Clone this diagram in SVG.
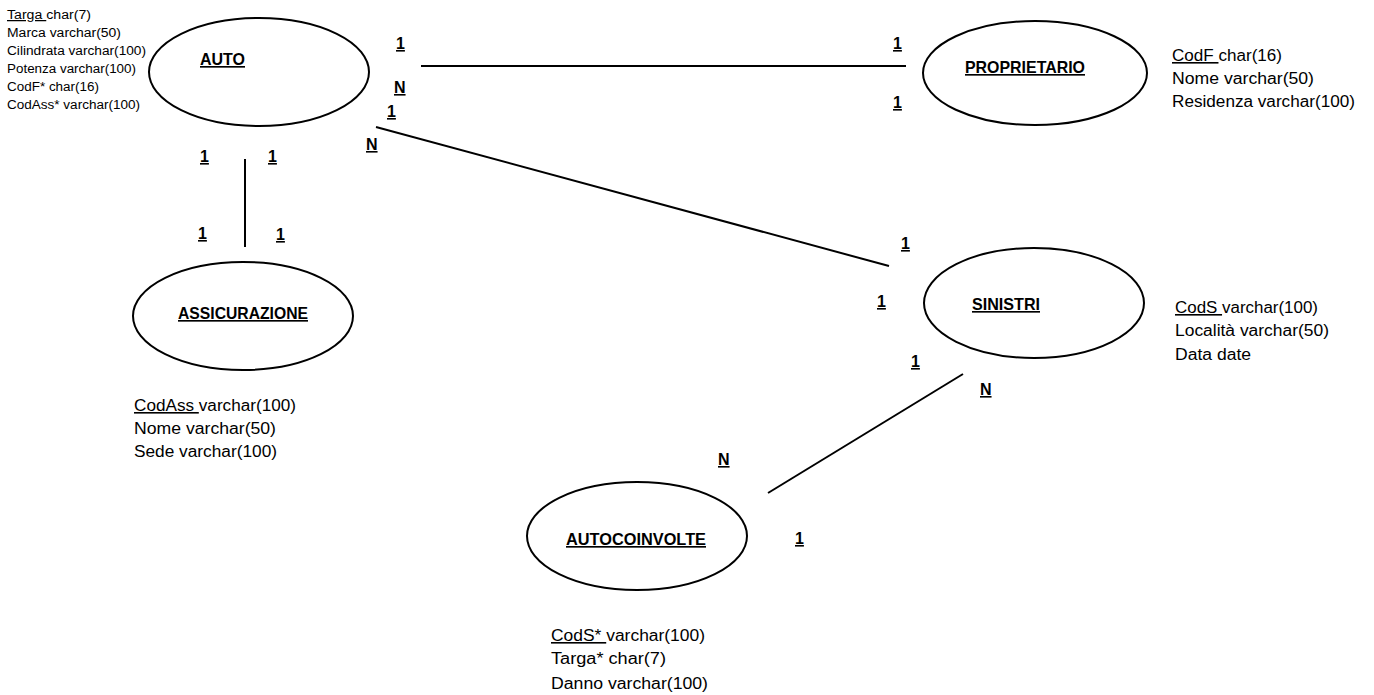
<svg xmlns="http://www.w3.org/2000/svg" width="1374" height="695" viewBox="0 0 1374 695">
  <style>
    .ent { fill: none; stroke: #000; stroke-width: 2; }
    .lnk { stroke: #000; stroke-width: 2; fill: none; }
    .title { font-family: "Liberation Sans", Arial, sans-serif; font-weight: bold; font-size: 16.5px; text-decoration: underline; fill: #000; }
    .card { font-family: "Liberation Sans", Arial, sans-serif; font-weight: bold; font-size: 16px; text-decoration: underline; fill: #000; }
    .attr { font-family: "Liberation Sans", Arial, sans-serif; font-size: 16px; fill: #000; }
    .attr-s { font-family: "Liberation Sans", Arial, sans-serif; font-size: 12.5px; fill: #000; }
    .key { text-decoration: underline; }
  </style>
  <rect width="1374" height="695" fill="#fff"/>

  <!-- relationships -->
  <g id="connectors">
    <line class="lnk" x1="421" y1="66" x2="906" y2="66"/>
    <line class="lnk" x1="376" y1="127" x2="889" y2="266"/>
    <line class="lnk" x1="245" y1="159" x2="245" y2="247"/>
    <line class="lnk" x1="963" y1="374" x2="768" y2="493"/>
    <!-- cardinalities -->
    <text class="card" x="396" y="49">1</text>
    <text class="card" x="394" y="93">N</text>
    <text class="card" x="387" y="117">1</text>
    <text class="card" x="366" y="150">N</text>
    <text class="card" x="893" y="49">1</text>
    <text class="card" x="893" y="108">1</text>
    <text class="card" x="200" y="162">1</text>
    <text class="card" x="268" y="162">1</text>
    <text class="card" x="198" y="239">1</text>
    <text class="card" x="276" y="240">1</text>
    <text class="card" x="901" y="249">1</text>
    <text class="card" x="877" y="307">1</text>
    <text class="card" x="911" y="367">1</text>
    <text class="card" x="980" y="395">N</text>
    <text class="card" x="718" y="465">N</text>
    <text class="card" x="795" y="544">1</text>
  </g>

  <g id="auto">
    <ellipse class="ent" cx="259" cy="72" rx="110" ry="54"/>
    <text class="title" x="200" y="65" textLength="45" lengthAdjust="spacingAndGlyphs">AUTO</text>
    <text class="attr-s" x="7" y="19" textLength="84" lengthAdjust="spacingAndGlyphs"><tspan class="key">Targa </tspan>char(7)</text>
    <text class="attr-s" x="7" y="37" textLength="114" lengthAdjust="spacingAndGlyphs">Marca varchar(50)</text>
    <text class="attr-s" x="7" y="55" textLength="139" lengthAdjust="spacingAndGlyphs">Cilindrata varchar(100)</text>
    <text class="attr-s" x="7" y="73" textLength="129" lengthAdjust="spacingAndGlyphs">Potenza varchar(100)</text>
    <text class="attr-s" x="7" y="91" textLength="92" lengthAdjust="spacingAndGlyphs">CodF* char(16)</text>
    <text class="attr-s" x="7" y="109" textLength="133" lengthAdjust="spacingAndGlyphs">CodAss* varchar(100)</text>
  </g>

  <g id="proprietario">
    <ellipse class="ent" cx="1035" cy="73" rx="112" ry="52"/>
    <text class="title" x="965" y="73" textLength="120" lengthAdjust="spacingAndGlyphs">PROPRIETARIO</text>
    <text class="attr" x="1172" y="61" textLength="110" lengthAdjust="spacingAndGlyphs"><tspan class="key">CodF </tspan>char(16)</text>
    <text class="attr" x="1172" y="84" textLength="142" lengthAdjust="spacingAndGlyphs">Nome varchar(50)</text>
    <text class="attr" x="1172" y="107" textLength="183" lengthAdjust="spacingAndGlyphs">Residenza varchar(100)</text>
  </g>

  <g id="sinistri">
    <ellipse class="ent" cx="1034" cy="303" rx="110" ry="55"/>
    <text class="title" x="972" y="310" textLength="68" lengthAdjust="spacingAndGlyphs">SINISTRI</text>
    <text class="attr" x="1175" y="313" textLength="143" lengthAdjust="spacingAndGlyphs"><tspan class="key">CodS </tspan>varchar(100)</text>
    <text class="attr" x="1175" y="336" textLength="154" lengthAdjust="spacingAndGlyphs">Località varchar(50)</text>
    <text class="attr" x="1175" y="360" textLength="76" lengthAdjust="spacingAndGlyphs">Data date</text>
  </g>

  <g id="assicurazione">
    <ellipse class="ent" cx="243" cy="316" rx="110" ry="54"/>
    <text class="title" x="178" y="319" textLength="130" lengthAdjust="spacingAndGlyphs">ASSICURAZIONE</text>
    <text class="attr" x="134" y="411" textLength="162" lengthAdjust="spacingAndGlyphs"><tspan class="key">CodAss </tspan>varchar(100)</text>
    <text class="attr" x="134" y="434" textLength="142" lengthAdjust="spacingAndGlyphs">Nome varchar(50)</text>
    <text class="attr" x="134" y="457" textLength="143" lengthAdjust="spacingAndGlyphs">Sede varchar(100)</text>
  </g>

  <g id="autocoinvolte">
    <ellipse class="ent" cx="637" cy="536" rx="110" ry="54"/>
    <text class="title" x="566" y="545" textLength="140" lengthAdjust="spacingAndGlyphs">AUTOCOINVOLTE</text>
    <text class="attr" x="551" y="641" textLength="154" lengthAdjust="spacingAndGlyphs"><tspan class="key">CodS* </tspan>varchar(100)</text>
    <text class="attr" x="551" y="664" textLength="115" lengthAdjust="spacingAndGlyphs">Targa* char(7)</text>
    <text class="attr" x="551" y="689" textLength="157" lengthAdjust="spacingAndGlyphs">Danno varchar(100)</text>
  </g>
</svg>
